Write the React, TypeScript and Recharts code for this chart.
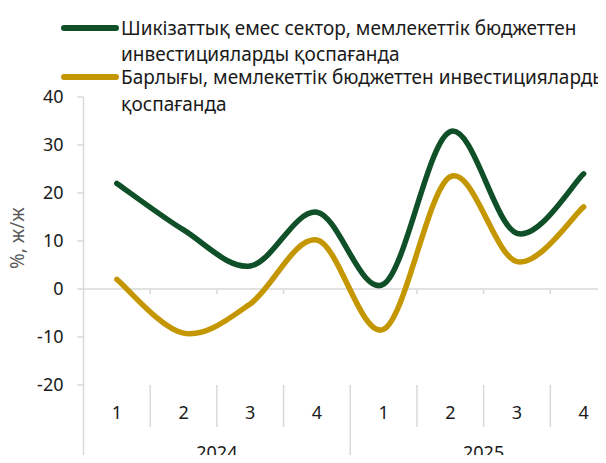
import { LineChart, Line, XAxis, YAxis, ReferenceLine } from 'recharts';

const quarterLabels = ['1', '2', '3', '4', '1', '2', '3', '4'];
const pointYears = ['2024', '2024', '2024', '2024', '2025', '2025', '2025', '2025'];
const nonResourceSector = [22, 12.3, 4.8, 16, 1, 32.8, 11.6, 24];
const totalInvestment = [2, -9.2, -3.1, 10.2, -8.4, 23.4, 5.7, 17.1];
const yTicks = [-20, -10, 0, 10, 20, 30, 40];

const GREEN = '#105028';
const GOLD = '#c49600';
const GRID = '#d9d9d9';
const FONT = '"Noto Sans", sans-serif';

const data = quarterLabels.map((q, i) => ({
  key: `${pointYears[i]}-${q}`,
  quarter: q,
  year: pointYears[i],
  nonResource: nonResourceSector[i],
  total: totalInvestment[i],
}));

// Excel-style smoothed line (Catmull-Rom through every point)
const excelCurve = (context: any) => {
  let pts: number[][] = [];
  return {
    areaStart() {},
    areaEnd() {},
    lineStart() {
      pts = [];
    },
    lineEnd() {
      const n = pts.length;
      if (!n) return;
      context.moveTo(pts[0][0], pts[0][1]);
      for (let i = 0; i < n - 1; i++) {
        const p0 = pts[Math.max(i - 1, 0)];
        const p1 = pts[i];
        const p2 = pts[i + 1];
        const p3 = pts[Math.min(i + 2, n - 1)];
        context.bezierCurveTo(
          p1[0] + (p2[0] - p0[0]) / 6,
          p1[1] + (p2[1] - p0[1]) / 6,
          p2[0] - (p3[0] - p1[0]) / 6,
          p2[1] - (p3[1] - p1[1]) / 6,
          p2[0],
          p2[1]
        );
      }
    },
    point(x: number, y: number) {
      pts.push([+x, +y]);
    },
  };
};

function CategoryTick(props: any) {
  const { x, y, payload, index } = props;
  const i = payload?.index ?? index;
  const half = payload?.offset || 33.35;
  const row = data[i];
  return (
    <g>
      <text x={x} y={y + 27} textAnchor="middle" dominantBaseline="central" fontSize={18} fontFamily={FONT} fill="#1a1a1a">
        {row?.quarter}
      </text>
      {i % 4 !== 3 && <line x1={x + half} x2={x + half} y1={y} y2={y + 42} stroke={GRID} strokeWidth={1.5} />}
      {i % 4 === 0 && <line x1={x - half} x2={x - half} y1={y} y2={y + 80} stroke={GRID} strokeWidth={1.5} />}
      {i === data.length - 1 && <line x1={x + half} x2={x + half} y1={y} y2={y + 80} stroke={GRID} strokeWidth={1.5} />}
      {i % 4 === 1 && (
        <text x={x + half} y={y + 67} textAnchor="middle" dominantBaseline="central" fontSize={18} fontFamily={FONT} fill="#1a1a1a">
          {row?.year}
        </text>
      )}
    </g>
  );
}

function ZeroLine(props: any) {
  const { x1, y1, x2 } = props;
  const band = (x2 - x1) / data.length;
  return (
    <g>
      <line x1={x1} x2={x2 + 20} y1={y1} y2={y1} stroke={GRID} strokeWidth={1.5} />
      {data.slice(1).map((_, i) => (
        <line key={i} x1={x1 + band * (i + 1)} x2={x1 + band * (i + 1)} y1={y1} y2={y1 + 5} stroke={GRID} strokeWidth={1.5} />
      ))}
    </g>
  );
}

const legendItems = [
  { color: GREEN, lines: ['Шикізаттық емес сектор, мемлекеттік бюджеттен', 'инвестицияларды қоспағанда'], centers: [28, 54] },
  { color: GOLD, lines: ['Барлығы, мемлекеттік бюджеттен инвестицияларды', 'қоспағанда'], centers: [77, 104] },
];

export default function App() {
  return (
    <div style={{ position: 'relative', width: 606, height: 463, margin: -8, overflow: 'hidden', background: '#fff' }}>
      <LineChart width={630} height={463} data={data} margin={{ top: 97, right: 13, bottom: 0, left: 0 }}>
        <YAxis
          domain={[-20, 40]}
          ticks={yTicks}
          interval={0}
          width={83.5}
          axisLine={{ stroke: GRID, strokeWidth: 1.5 }}
          tickLine={{ stroke: GRID, strokeWidth: 1.5 }}
          tickSize={6}
          tickMargin={14}
          tick={{ fontSize: 18, fontFamily: FONT, fill: '#1a1a1a' }}
          label={{ value: '%, ж/ж', angle: -90, position: 'insideLeft', dx: 12, dy: 28, fontSize: 19, fontFamily: FONT, fill: '#595959' }}
        />
        <XAxis
          dataKey="key"
          scale="band"
          height={78}
          axisLine={false}
          tickLine={false}
          tickSize={0}
          tickMargin={0}
          interval={0}
          tick={<CategoryTick />}
        />
        <ReferenceLine y={0} stroke={GRID} shape={(p: any) => <ZeroLine {...p} />} ifOverflow="visible" />
        <Line
          dataKey="nonResource"
          type={excelCurve as any}
          stroke={GREEN}
          strokeWidth={5.5}
          strokeLinecap="round"
          dot={false}
          activeDot={false}
          isAnimationActive={false}
        />
        <Line
          dataKey="total"
          type={excelCurve as any}
          stroke={GOLD}
          strokeWidth={5.5}
          strokeLinecap="round"
          dot={false}
          activeDot={false}
          isAnimationActive={false}
        />
      </LineChart>
      {legendItems.map((item) => (
        <div key={item.color}>
          <svg width={60} height={10} style={{ position: 'absolute', left: 60, top: item.centers[0] - 5 }}>
            <line x1={4} x2={56} y1={5} y2={5} stroke={item.color} strokeWidth={6} strokeLinecap="round" />
          </svg>
          {item.lines.map((t, i) => (
            <div
              key={i}
              style={{
                position: 'absolute',
                left: 121,
                top: item.centers[i] - 10,
                lineHeight: '20px',
                whiteSpace: 'nowrap',
                fontFamily: FONT,
                fontSize: 19,
                color: '#1a1a1a',
              }}
            >
              {t}
            </div>
          ))}
        </div>
      ))}
    </div>
  );
}
